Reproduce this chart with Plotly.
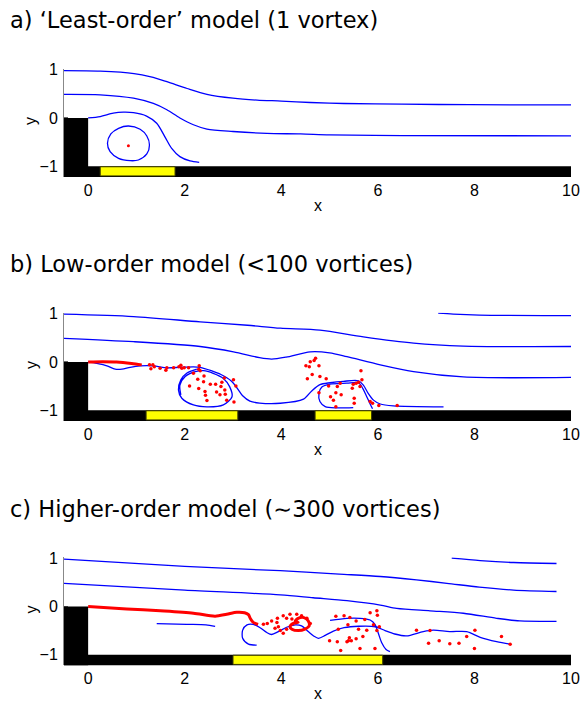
import plotly.graph_objects as go

# ---------------- data ----------------
X_RANGE = [-0.5, 10]
Y_RANGE = [-1.22, 1.02]
x_ticks = [0, 2, 4, 6, 8, 10]
y_ticks = [-1, 0, 1]

titles = ["a) \u2018Least-order\u2019 model (1 vortex)",
          "b) Low-order model (&lt;100 vortices)",
          "c) Higher-order model (\u223c300 vortices)"]

# actuator (yellow) extents per panel
act_a = [[0.25, 1.8]]
act_b = [[1.2, 3.1], [4.7, 5.87]]
act_c = [[3.0, 6.1]]

# ---- panel a ----
a_s1_x = [-0.5, 0.25, 0.95, 1.3, 1.63, 2.05, 2.46, 3.0, 3.5, 4.0, 4.6, 5.3, 6.5, 7.9, 10.0]
a_s1_y = [0.98, 0.97, 0.92, 0.85, 0.75, 0.61, 0.49, 0.41, 0.37, 0.35, 0.32, 0.30, 0.285, 0.275, 0.27]
a_s2_x = [-0.5, 0.25, 0.94, 1.35, 1.63, 1.9, 2.18, 2.46, 3.0, 3.7, 4.4, 5.0, 6.5, 10.0]
a_s2_y = [0.49, 0.48, 0.41, 0.30, 0.17, 0.0, -0.14, -0.23, -0.28, -0.32, -0.33, -0.35, -0.365, -0.37]
a_s3_x = [0, 0.25, 0.52, 0.73, 0.94, 1.21, 1.42, 1.59, 1.73, 1.9, 2.11, 2.3]
a_s3_y = [0, 0.03, 0.10, 0.12, 0.11, 0.04, -0.11, -0.39, -0.63, -0.80, -0.89, -0.92]
a_loop_x = [0.835, 1.077, 1.215, 1.27, 1.215, 1.04, 0.87, 0.63, 0.455, 0.40, 0.47, 0.63, 0.835]
a_loop_y = [-0.166, -0.234, -0.373, -0.559, -0.745, -0.87, -0.884, -0.835, -0.697, -0.524, -0.331, -0.214, -0.166]
a_dot_x = [0.834]
a_dot_y = [-0.573]

# ---- panel b ----
b_s0_x = [7.25, 7.56, 8.1, 10.0]
b_s0_y = [1.01, 0.99, 0.97, 0.96]
b_s1_x = [-0.5, 0.94, 2.32, 3.3, 3.98, 4.8, 5.7, 6.74, 7.77, 10.0]
b_s1_y = [0.99, 0.94, 0.83, 0.76, 0.70, 0.66, 0.52, 0.39, 0.33, 0.32]
b_s2_x = [-0.5, 0.94, 2.32, 3.01, 3.55, 3.8, 4.1, 4.6, 5.0, 5.36, 6.05, 6.74, 7.77, 10.0]
b_s2_y = [0.49, 0.42, 0.32, 0.21, 0.09, 0.06, 0.10, 0.21, 0.19, 0.11, -0.06, -0.2, -0.31, -0.32]
b_sep_x = [0, 0.18, 0.39, 0.56, 0.70, 0.87, 1.08, 1.35, 1.63, 1.90, 2.18, 2.32, 2.55, 2.75, 2.97,
           3.1, 3.2, 3.35, 3.55, 3.98, 4.46, 4.63, 4.80, 5.01, 5.29, 5.60, 5.70, 5.80, 5.91, 6.05,
           6.32, 7.36]
b_sep_y = [0, -0.03, -0.08, -0.15, -0.15, -0.11, -0.08, -0.08, -0.12, -0.11, -0.10, -0.11, -0.18,
           -0.26, -0.40, -0.56, -0.70, -0.81, -0.85, -0.855, -0.77, -0.60, -0.47, -0.43, -0.40,
           -0.39, -0.48, -0.65, -0.79, -0.87, -0.91, -0.93]
b_loop1_x = [2.25, 2.04, 1.92, 1.87, 1.94, 2.18, 2.46, 2.80, 2.98, 2.93, 2.80, 2.59, 2.39, 2.22,
             2.01, 1.90, 1.92]
b_loop1_y = [-0.15, -0.235, -0.37, -0.58, -0.75, -0.89, -0.93, -0.89, -0.72, -0.51, -0.34, -0.235,
             -0.18, -0.20, -0.30, -0.48, -0.68]
b_loop2_x = [5.49, 5.15, 4.91, 4.80, 4.78, 4.84, 5.01, 5.36, 5.60, 5.69, 5.77, 5.85, 5.89]
b_loop2_y = [-0.945, -0.95, -0.925, -0.82, -0.65, -0.52, -0.46, -0.44, -0.43, -0.55, -0.72, -0.89, -0.97]
b_sheet_x = [0, 0.3, 0.59, 0.9, 1.11]
b_sheet_y = [0, 0.005, 0.0, -0.03, -0.06]
b_dots_x = [1.27, 1.34, 1.37, 1.30, 1.49, 1.63, 1.61, 1.77, 1.88, 1.92, 1.94, 1.99, 2.08, 2.30,
            2.29, 2.32, 2.18, 2.27, 2.40, 2.39, 2.10, 2.53, 2.64, 2.77, 2.82, 3.01, 3.06, 2.75,
            2.66, 2.73, 2.83, 2.84, 2.42, 2.43, 2.29, 2.46, 2.87, 3.02,
            4.71, 4.68, 4.60, 4.51, 4.58, 4.78, 4.64, 4.54, 4.80, 4.93, 5.65, 5.67, 5.60, 5.55,
            5.49, 5.47, 5.22, 5.16, 4.98, 4.78, 5.13, 5.24, 5.02, 5.08, 5.51, 5.51, 5.13, 5.84,
            5.89, 6.02, 6.40, 5.63]
b_dots_y = [-0.06, -0.06, -0.10, -0.14, -0.13, -0.12, -0.17, -0.12, -0.10, -0.07, -0.13, -0.12,
            -0.12, -0.08, -0.15, -0.18, -0.235, -0.36, -0.29, -0.41, -0.50, -0.46, -0.46, -0.42,
            -0.33, -0.37, -0.50, -0.51, -0.62, -0.68, -0.58, -0.67, -0.61, -0.69, -0.55, -0.80,
            -0.79, -0.83,
            0.076, 0.028, 0.007, -0.076, -0.097, -0.076, -0.26, -0.345, -0.30, -0.345, -0.18,
            -0.37, -0.42, -0.44, -0.46, -0.545, -0.44, -0.51, -0.50, -0.635, -0.635, -0.68, -0.72,
            -0.79, -0.75, -0.855, -0.925, -0.82, -0.855, -0.90, -0.90, -0.51]

# ---- panel c ----
c_s0_x = [7.53, 8.12, 8.81, 9.7]
c_s0_y = [1.0, 0.95, 0.91, 0.89]
c_s1_x = [-0.5, 2.0, 3.98, 5.2, 6.05, 6.8, 7.43, 8.1, 8.81, 9.7]
c_s1_y = [0.98, 0.83, 0.74, 0.67, 0.62, 0.55, 0.48, 0.40, 0.34, 0.31]
c_s2_x = [-0.5, 2.0, 3.98, 4.66, 5.36, 6.05, 6.39, 7.08, 7.77, 8.46, 8.94, 9.7]
c_s2_y = [0.48, 0.34, 0.24, 0.18, 0.12, 0.03, -0.04, -0.09, -0.14, -0.245, -0.30, -0.31]
c_short_x = [1.42, 2.04, 2.44, 2.63]
c_short_y = [-0.355, -0.37, -0.38, -0.41]
c_wavy_x = [3.49, 3.32, 3.20, 3.20, 3.29, 3.42, 3.56, 3.70, 3.80, 3.94, 4.11, 4.29, 4.42, 4.56,
            4.67, 4.77, 4.91, 5.08, 5.3, 5.6, 5.95, 6.15, 6.35, 6.59, 6.94, 7.15, 7.49, 7.84,
            8.12, 8.46, 8.74]
c_wavy_y = [-0.80, -0.78, -0.66, -0.49, -0.38, -0.37, -0.44, -0.54, -0.58, -0.52, -0.43, -0.38,
            -0.40, -0.52, -0.61, -0.66, -0.60, -0.51, -0.44, -0.41, -0.42, -0.50, -0.57, -0.61,
            -0.52, -0.49, -0.52, -0.52, -0.64, -0.73, -0.78]
c_arch_x = [5.01, 5.36, 5.63, 5.84, 5.94, 6.01, 6.08, 6.17, 6.25]
c_arch_y = [-0.29, -0.245, -0.245, -0.28, -0.37, -0.555, -0.75, -0.89, -0.935]
c_sheet_x = [0.0, 0.8, 1.49, 2.18, 2.63, 2.87, 3.08, 3.24, 3.32, 3.36, 3.42, 3.52]
c_sheet_y = [0.0, -0.05, -0.09, -0.14, -0.20, -0.16, -0.12, -0.13, -0.17, -0.25, -0.33, -0.37]
c_curl_x = [4.35, 4.25, 4.18, 4.22, 4.35, 4.49, 4.58, 4.56, 4.47, 4.35, 4.29, 4.35]
c_curl_y = [-0.33, -0.35, -0.42, -0.47, -0.50, -0.47, -0.40, -0.30, -0.23, -0.245, -0.30, -0.33]
c_dots_x = [3.63, 3.71, 3.80, 3.92, 4.04, 4.18, 4.32, 4.42, 4.53, 4.60, 3.94, 4.04, 4.11, 4.22,
            3.91, 3.98, 3.87, 4.11,
            5.13, 5.30, 5.42, 5.55, 5.84, 5.98, 5.99, 5.73, 5.91, 6.03, 5.77, 5.98, 5.60, 5.38,
            5.18, 5.41, 5.55, 5.69, 5.39, 5.45, 5.36, 5.00, 5.16, 5.23, 5.63, 5.94,
            6.80, 7.08, 7.05, 7.49, 8.01, 7.84, 8.56, 7.27, 7.68, 8.0, 8.74]
c_dots_y = [-0.37, -0.35, -0.30, -0.245, -0.19, -0.16, -0.16, -0.19, -0.245, -0.35, -0.42, -0.555,
            -0.245, -0.26, -0.33, -0.50, -0.45, -0.47,
            -0.20, -0.19, -0.23, -0.30, -0.13, -0.09, -0.18, -0.27, -0.38, -0.42, -0.49, -0.50,
            -0.47, -0.38, -0.47, -0.645, -0.67, -0.62, -0.71, -0.71, -0.73, -0.71, -0.73, -0.91,
            -0.87, -0.87,
            -0.49, -0.50, -0.76, -0.77, -0.49, -0.62, -0.62, -0.71, -0.76, -0.87, -0.78]

# ---------------- styling ----------------
BLUE = "#0000ff"
RED = "#ff0000"
W, H = 587, 702
ML, MR = 64, 16
# panel pixel tops/bottoms of the plotting area
panel_px = [(68.7, 176.9), (312.7, 420.9), (557.2, 665.4)]
title_py = [20.0, 264.0, 508.5]
xlab_py = [205.0, 449.5, 693.5]

panels = [
    dict(lines=[(a_s1_x, a_s1_y), (a_s2_x, a_s2_y), (a_s3_x, a_s3_y), (a_loop_x, a_loop_y)],
         sheets=[], dots=(a_dot_x, a_dot_y), dot_size=3, acts=act_a),
    dict(lines=[(b_s0_x, b_s0_y), (b_s1_x, b_s1_y), (b_s2_x, b_s2_y), (b_sep_x, b_sep_y),
                (b_loop1_x, b_loop1_y), (b_loop2_x, b_loop2_y)],
         sheets=[(b_sheet_x, b_sheet_y)], dots=(b_dots_x, b_dots_y), dot_size=3.5, acts=act_b),
    dict(lines=[(c_s0_x, c_s0_y), (c_s1_x, c_s1_y), (c_s2_x, c_s2_y), (c_short_x, c_short_y),
                (c_wavy_x, c_wavy_y), (c_arch_x, c_arch_y)],
         sheets=[(c_sheet_x, c_sheet_y), (c_curl_x, c_curl_y)], dots=(c_dots_x, c_dots_y),
         dot_size=3.5, acts=act_c),
]

fig = go.Figure()
layout = dict(width=W, height=H, margin=dict(l=ML, r=MR, t=0, b=0, pad=0, autoexpand=False),
              plot_bgcolor="white", paper_bgcolor="white", showlegend=False,
              font=dict(family="Liberation Sans, Arial, sans-serif", size=16, color="black"))
shapes = []
annotations = []

for i, p in enumerate(panels):
    k = "" if i == 0 else str(i + 1)
    xa, ya = "x" + k, "y" + k
    top, bot = panel_px[i]
    layout["xaxis" + k] = dict(domain=[0, 1], range=X_RANGE, anchor=ya, tickvals=x_ticks,
                               ticks="", showgrid=False, zeroline=False, showline=False,
                               tickfont=dict(size=16), ticklabelstandoff=2, automargin=False)
    layout["yaxis" + k] = dict(domain=[1 - bot / H, 1 - top / H], range=Y_RANGE, anchor=xa,
                               tickvals=y_ticks, ticks="inside", ticklen=4, tickcolor="#666",
                               showgrid=False, zeroline=False, showline=True,
                               linecolor="#888", linewidth=1, tickfont=dict(size=16),
                               ticklabelstandoff=2, automargin=False)
    for lx, ly in p["lines"]:
        fig.add_trace(go.Scatter(x=lx, y=ly, mode="lines", xaxis=xa, yaxis=ya,
                                 line=dict(color=BLUE, width=1.3, shape="spline", smoothing=0.8),
                                 hoverinfo="skip"))
    for sx, sy in p["sheets"]:
        fig.add_trace(go.Scatter(x=sx, y=sy, mode="lines", xaxis=xa, yaxis=ya,
                                 line=dict(color=RED, width=3, shape="spline", smoothing=0.8),
                                 hoverinfo="skip"))
    dx, dy = p["dots"]
    fig.add_trace(go.Scatter(x=dx, y=dy, mode="markers", xaxis=xa, yaxis=ya,
                             marker=dict(color=RED, size=p["dot_size"], line=dict(width=0)),
                             hoverinfo="skip"))
    # wall geometry (black step + floor)
    shapes.append(dict(type="rect", xref=xa, yref=ya, x0=X_RANGE[0], x1=0, y0=Y_RANGE[0], y1=0,
                       fillcolor="black", line=dict(width=0), layer="above"))
    shapes.append(dict(type="rect", xref=xa, yref=ya, x0=X_RANGE[0], x1=X_RANGE[1],
                       y0=Y_RANGE[0], y1=-1.0, fillcolor="black", line=dict(width=0),
                       layer="above"))
    for a0, a1 in p["acts"]:
        shapes.append(dict(type="rect", xref=xa, yref=ya, x0=a0, x1=a1, y0=-1.2, y1=-1.01,
                           fillcolor="#ffff00", line=dict(width=1, color="#3a3a00"),
                           layer="above"))
    annotations.append(dict(text=titles[i], xref="paper", yref="paper",
                            x=(8 - ML) / (W - ML - MR), y=1 - title_py[i] / H,
                            xanchor="left", yanchor="middle", showarrow=False,
                            font=dict(family="DejaVu Sans", size=22.5)))
    annotations.append(dict(text="x", xref="paper", yref="paper", x=0.5, y=1 - xlab_py[i] / H,
                            xanchor="center", yanchor="middle", showarrow=False,
                            font=dict(size=16)))
    annotations.append(dict(text="y", xref="paper", yref="paper",
                            x=(31 - ML) / (W - ML - MR),
                            y=1 - (top + 49.3 + 3) / H, xanchor="center", yanchor="middle",
                            textangle=-90, showarrow=False, font=dict(size=16)))

layout["shapes"] = shapes
layout["annotations"] = annotations
fig.update_layout(**layout)
fig.write_html("out.html", config={"displayModeBar": False},
               post_script="document.body.style.margin='0';")
